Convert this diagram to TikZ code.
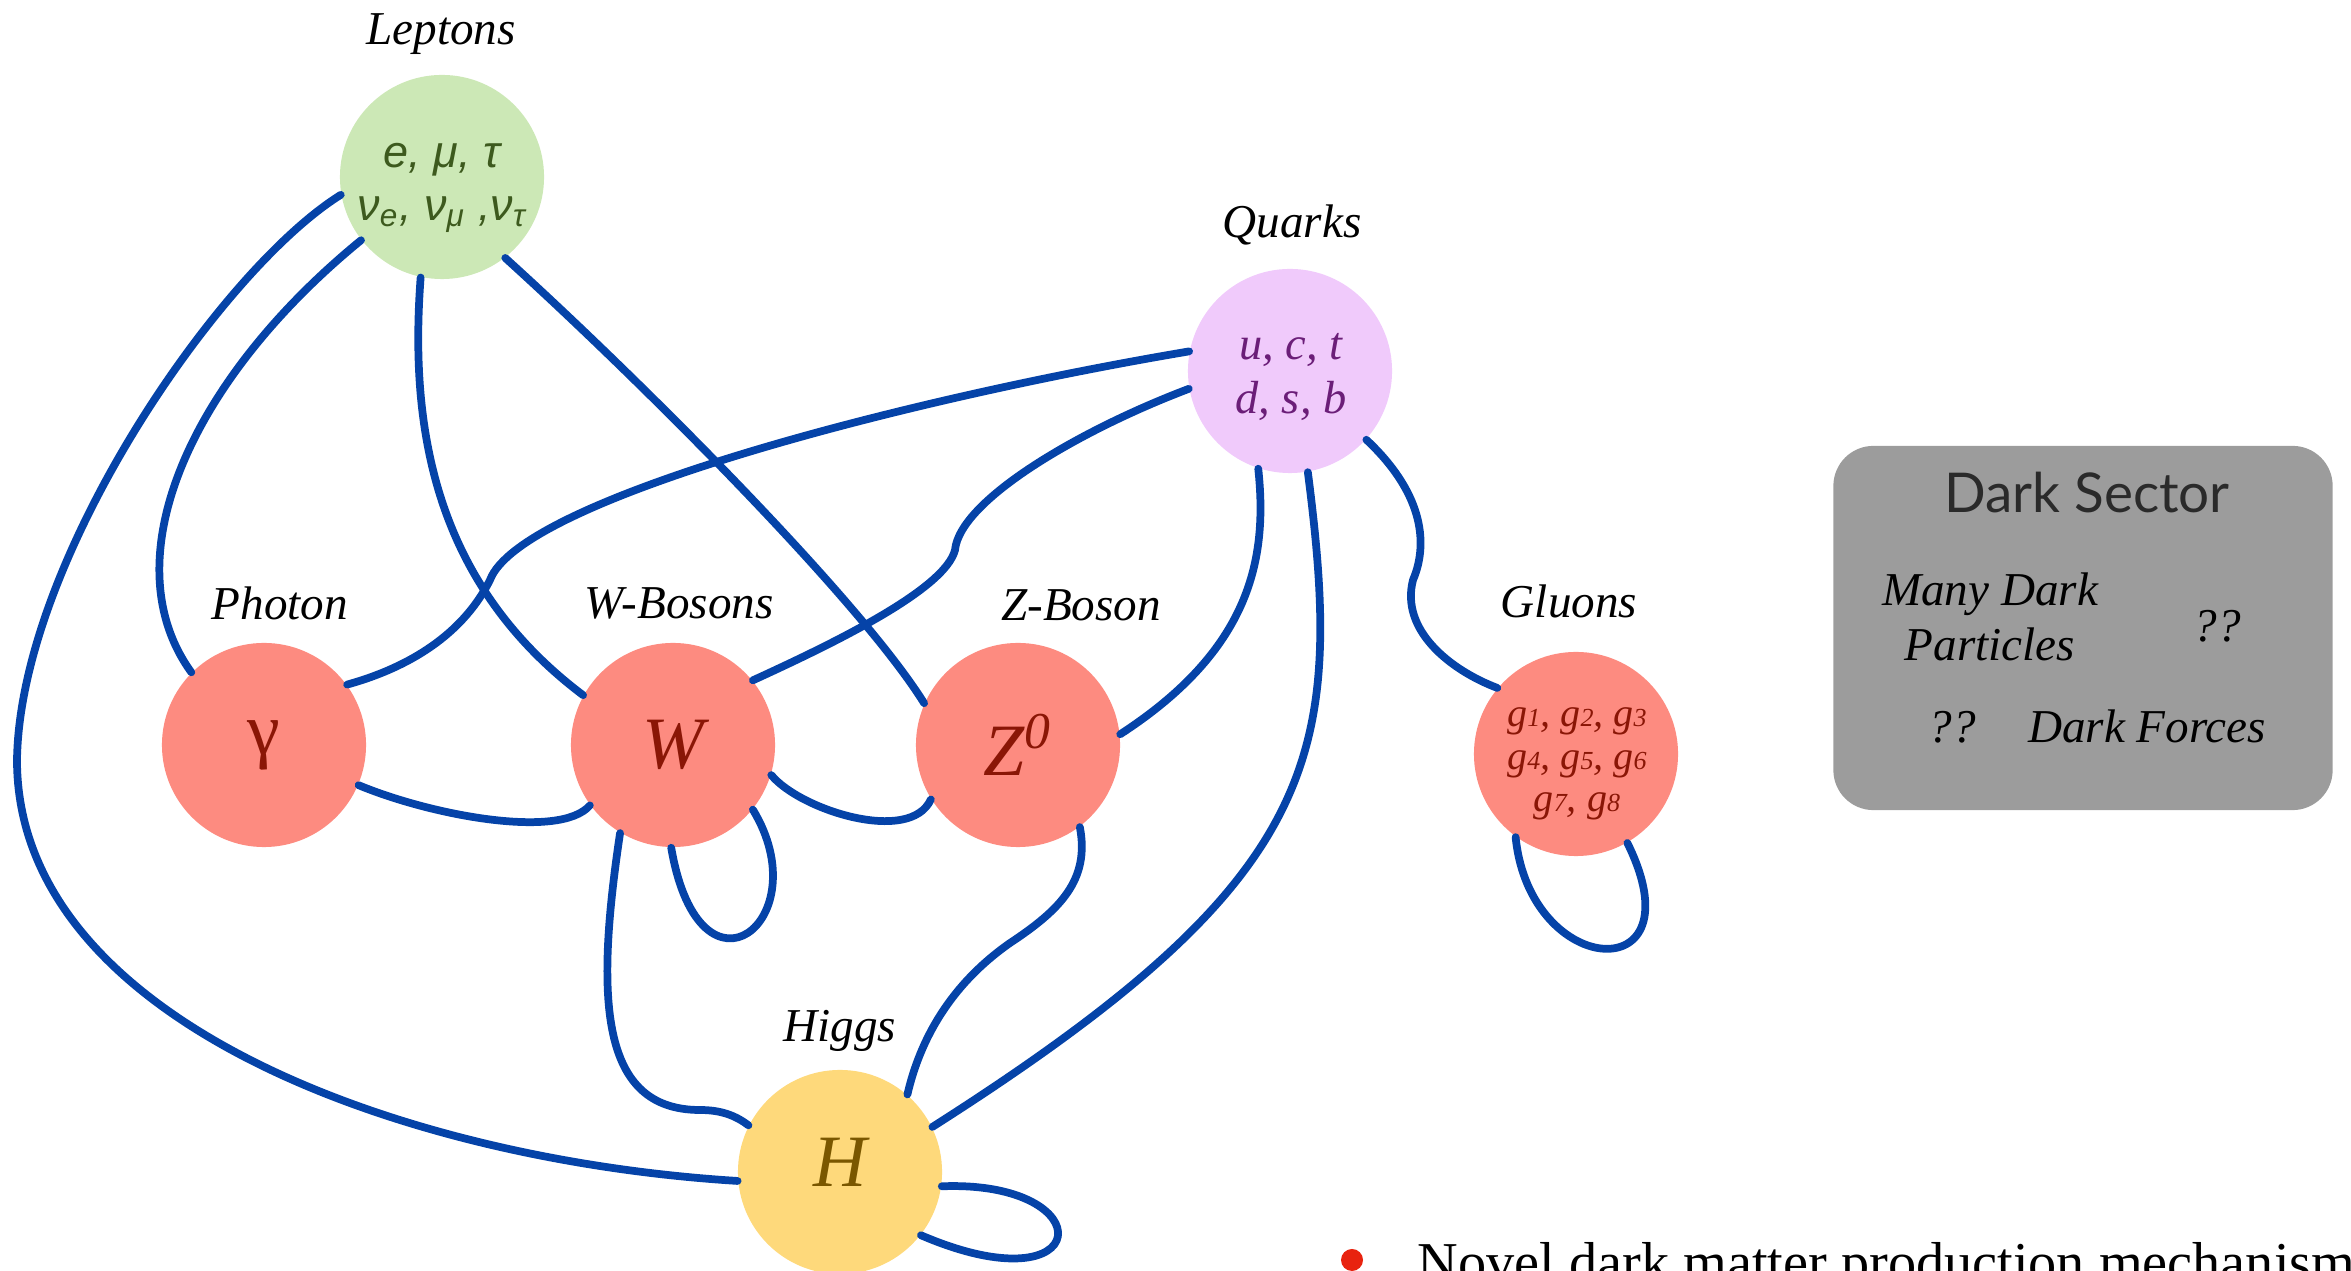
\documentclass[tikz,border=0pt]{standalone}
\usepackage{fontspec}
\setmainfont{Liberation Serif}
\newfontfamily\lepfont{Liberation Sans}
\newfontfamily\darkfont{Lato}
\usepackage{xcolor}
\definecolor{lepfill}{HTML}{CCE8B6}
\definecolor{leptext}{HTML}{3D5A1E}
\definecolor{qrkfill}{HTML}{F0CAFB}
\definecolor{qrktext}{HTML}{6B1E78}
\definecolor{bosfill}{HTML}{FD8B80}
\definecolor{bostext}{HTML}{8A1606}
\definecolor{higfill}{HTML}{FED97B}
\definecolor{higtext}{HTML}{7A5700}
\definecolor{linkblue}{HTML}{0543A8}
\definecolor{darkbox}{HTML}{9C9C9C}
\definecolor{darktitle}{HTML}{2A2A2A}
\definecolor{bulletred}{HTML}{E8230F}
\newcommand{\gsub}[1]{{\fontsize{7.4}{8}\selectfont #1}}

\begin{document}
\begin{tikzpicture}[x=0.01cm, y=-0.01cm,
  particle/.style={circle, minimum size=2.04cm, inner sep=0pt, align=center},
  lbl/.style={anchor=base, font=\fontsize{13.4}{16}\selectfont\itshape},
  bigsym/.style={font=\fontsize{21}{25}\selectfont},
  bigital/.style={font=\fontsize{21}{25}\selectfont\itshape},
  link/.style={draw=linkblue, line width=2.2pt, line cap=round}]

  \useasboundingbox (0,0) rectangle (2351,1271);
  \clip (0,0) rectangle (2351,1271);

  % Particles
  \node[particle, fill=lepfill] (lep) at (442,177) {};
  \node[align=center, text=leptext, font=\lepfont\itshape\fontsize{12.8}{15.2}\selectfont] (lepTxt) at (442,188)
    {e, μ, τ\\ ν\textsubscript{e}, ν\textsubscript{μ} ,ν\textsubscript{τ}};
  \node[particle, fill=qrkfill] (qrk) at (1290,371) {};
  \node[align=center, text=qrktext, font=\fontsize{13.2}{15.6}\selectfont\itshape] (qrkTxt) at (1291,377)
    {u, c, t\\ d, s, b};
  \node[particle, fill=bosfill, text=bostext, bigsym] (pho) at (264,745) {γ};
  \node[particle, fill=bosfill, text=bostext, bigital] (wbos) at (673,745) {W};
  \node[particle, fill=bosfill, text=bostext, bigital] (zbos) at (1018,745) {Z\textsuperscript{0}};
  \node[particle, fill=bosfill] (glu) at (1576,754) {};
  \node[align=center, text=bostext, font=\fontsize{11.4}{12.1}\selectfont\itshape] (gluTxt) at (1577,764)
    {g\gsub{1}, g\gsub{2}, g\gsub{3}\\ g\gsub{4}, g\gsub{5}, g\gsub{6}\\ g\gsub{7}, g\gsub{8}};
  \node[particle, fill=higfill, text=higtext, bigital] (hig) at (840,1172) {\raisebox{0.2cm}{H}};

  % Labels
  \node[lbl] (lepLbl) at (441,45) {Leptons};
  \node[lbl] (qrkLbl) at (1292,238) {Quarks};
  \node[lbl] (phoLbl) at (280,620) {Photon};
  \node[lbl] (wbosLbl) at (679,619) {W-Bosons};
  \node[lbl] (zbosLbl) at (1081,621) {Z-Boson};
  \node[lbl] (gluLbl) at (1569,618) {Gluons};
  \node[lbl] (higLbl) at (840,1042) {Higgs};

  % Lepton couplings
  \draw[link] (lep.190) .. controls (220,270) and (20,560) .. (17,760)
    .. controls (17,1020) and (400,1160) .. (hig.185);
  \draw[link] (lep.218) .. controls (190,380) and (110,560) .. (pho.135);
  \draw[link] (lep.258) .. controls (410,420) and (430,580) .. (wbos.151);
  \draw[link] (lep.308) .. controls (640,380) and (860,600) .. (zbos.156);

  % Quark couplings
  \draw[link] (qrk.169) .. controls (900,400) and (520,500) .. (490,580)
    .. controls (460,640) and (400,670) .. (pho.36);
  \draw[link] (qrk.190) .. controls (1080,430) and (960,500) .. (955,550)
    .. controls (945,590) and (830,645) .. (wbos.39);
  \draw[link] (qrk.252) .. controls (1268,560) and (1250,650) .. (zbos.6);
  \draw[link] (qrk.280) .. controls (1345,760) and (1320,880) .. (hig.26);
  \draw[link] (qrk.318) .. controls (1420,490) and (1430,540) .. (1413,580)
    .. controls (1400,630) and (1450,670) .. (glu.140);

  % Boson couplings
  \draw[link] (pho.337) .. controls (430,815) and (560,840) .. (wbos.216);
  \draw[link] (wbos.343) .. controls (800,810) and (910,845) .. (zbos.212);
  \draw[link] (wbos.321) .. controls (820,920) and (700,1015) .. (wbos.269);
  \draw[link] (wbos.239) .. controls (595,1000) and (600,1110) .. (700,1110)
    .. controls (720,1110) and (735,1115) .. (hig.153);
  \draw[link] (zbos.307) .. controls (1090,880) and (1060,910) .. (1010,943)
    .. controls (950,985) and (920,1040) .. (hig.49);

  % Self couplings
  \draw[link] (hig.352) .. controls (1105,1180) and (1095,1310) .. (hig.322);
  \draw[link] (glu.234) .. controls (1530,980) and (1700,990) .. (glu.300);

  % Dark sector
  \node[fill=darkbox, rounded corners=0.4cm, minimum width=4.99cm, minimum height=3.64cm] (dark) at (2083,628) {};
  \node[anchor=base, text=darktitle, font=\darkfont\fontsize{15.6}{18}\selectfont] (darkTitle) at (2087,513) {Dark Sector};
  \node[align=center, font=\fontsize{13.4}{15.6}\selectfont\itshape] (darkPart) at (1990,617) {Many Dark\\ Particles};
  \node[lbl] (darkQa) at (2217,642) {??};
  \node[lbl] (darkQb) at (1952,743) {??};
  \node[lbl] (darkForce) at (2147,743) {Dark Forces};

  % Bullet text
  \node[circle, fill=bulletred, minimum size=0.22cm, inner sep=0pt] (bullet) at (1352,1260) {};
  \node[anchor=base west, inner sep=0pt, font=\fontsize{16}{19}\selectfont] (novel) at (1417,1282) {Novel dark matter production mechanism};
\end{tikzpicture}
\end{document}
